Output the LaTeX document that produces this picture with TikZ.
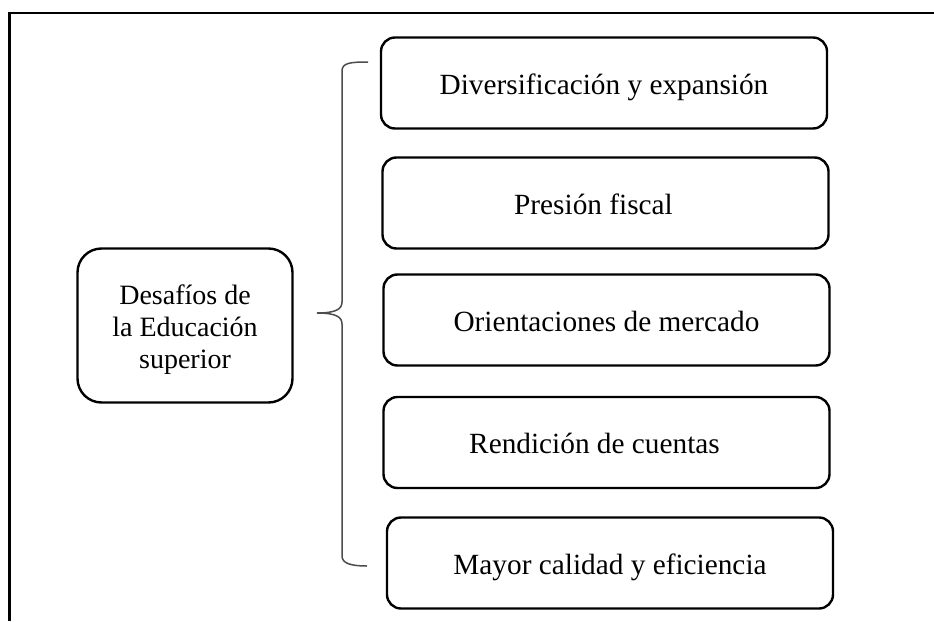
\documentclass[tikz,border=0pt]{standalone}
\usepackage{fontspec}
\setmainfont{Liberation Serif}
\begin{document}
\begin{tikzpicture}[x=1pt,y=-1pt,
  itembox/.style={draw, line width=2.4pt, rounded corners=14pt, minimum width=446pt, minimum height=91pt, inner sep=0pt, text height=28pt, text depth=6pt, font=\fontsize{29.3}{34}\selectfont},
  mainbox/.style={draw, line width=2.4pt, rounded corners=24pt, minimum width=215pt, minimum height=154pt, inner sep=0pt, align=center, font=\fontsize{28}{32}\selectfont},
  frameline/.style={line width=2.5pt},
  bracestyle/.style={line width=1.5pt, draw=black!70}]
\useasboundingbox (0,0) rectangle (934,621);
\coordinate (fa) at (934,13);
\coordinate (fc) at (9.5,13);
\coordinate (fb) at (9.5,621);
\draw[frameline] (fa) -- (fc) -- (fb);
\node[mainbox] (m) at (185,325.5) {\rule{0pt}{28pt}Desafíos de\\la Educación\\superior};
\node[itembox] (b1) at (604,83) {Diversificación y expansión};
\node[itembox] (b2) at (605.5,203) {Presión fiscal\hspace*{24pt}};
\node[itembox] (b3) at (606.5,320) {Orientaciones de mercado};
\node[itembox] (b4) at (606.5,442.5) {Rendición de cuentas\hspace*{24pt}};
\node[itembox] (b5) at (610,563) {Mayor calidad y eficiencia};
\coordinate (bt) at (368,62);
\coordinate (tip) at (317,313);
\coordinate (bb) at (367,566);
\draw[bracestyle] (bt) .. controls (350,62) and (342,63) .. (342,71) -- (342,302)
  .. controls (342,309) and (336,313) .. (tip)
  .. controls (336,313) and (342,317) .. (342,324) -- (342,556)
  .. controls (342,563) and (350,566) .. (bb);
\end{tikzpicture}
\end{document}
